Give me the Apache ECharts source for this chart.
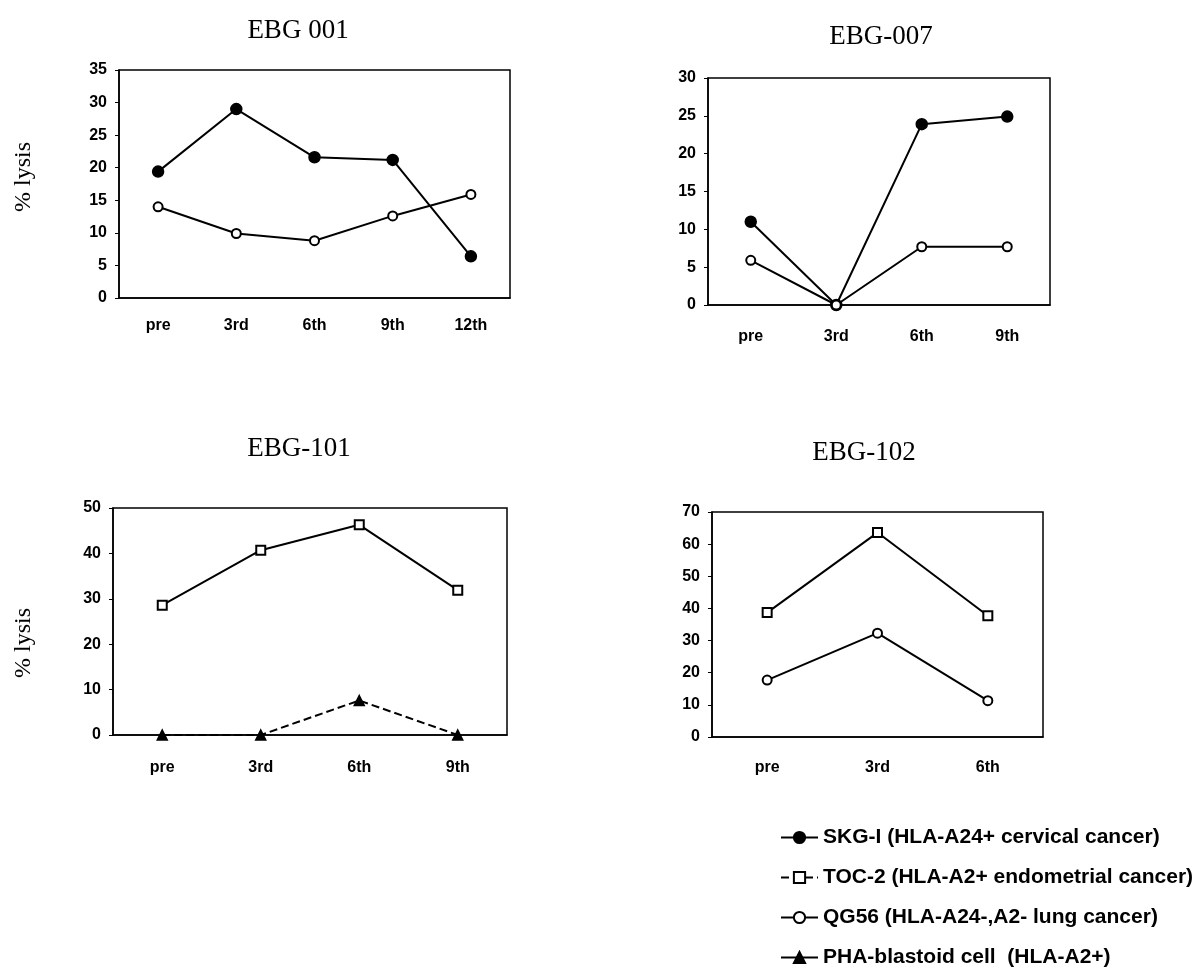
<!DOCTYPE html>
<html>
<head>
<meta charset="utf-8">
<script src="https://cdn.jsdelivr.net/npm/echarts@6/dist/echarts.min.js"></script>
<style>html,body{margin:0;padding:0;background:#fff}#c{width:1204px;height:973px}</style>
</head>
<body>
<div id="c"></div>
<script>
// ---- data ----
const panelTitles = ['EBG 001', 'EBG-007', 'EBG-101', 'EBG-102'];
const cats001 = ['pre', '3rd', '6th', '9th', '12th'];
const cats007 = ['pre', '3rd', '6th', '9th'];
const cats101 = ['pre', '3rd', '6th', '9th'];
const cats102 = ['pre', '3rd', '6th'];

const skg001 = [19.4, 29.0, 21.6, 21.2, 6.4];
const qg001  = [14.0, 9.9, 8.8, 12.6, 15.9];

const skg007 = [11.0, 0, 23.9, 24.9];
const qg007  = [5.9, 0, 7.7, 7.7];

const toc101 = [28.6, 40.7, 46.3, 31.9];
const pha101 = [0, 0, 7.6, 0];

const toc102 = [38.7, 63.6, 37.7];
const qg102  = [17.7, 32.3, 11.3];

const yMax = [35, 30, 50, 70];
const yStep = [5, 5, 10, 10];

const nameSKG = 'SKG-I (HLA-A24+ cervical cancer)';
const nameTOC = 'TOC-2 (HLA-A2+ endometrial cancer)';
const nameQG  = 'QG56 (HLA-A24-,A2- lung cancer)';
const namePHA = 'PHA-blastoid cell  (HLA-A2+)';

// ---- layout ----
const grids = [
  {left: 119, top: 70, width: 391, height: 228},
  {left: 708, top: 78, width: 342, height: 227},
  {left: 113, top: 508, width: 394, height: 227},
  {left: 712, top: 512, width: 331, height: 225}
];
const catsList = [cats001, cats007, cats101, cats102];
const xMargins = [20, 24, 25, 23];
const titlePos = [[293, 12], [876, 18], [294, 430], [859, 434]];

const tickFont = {fontFamily: 'Liberation Sans', fontWeight: 'bold', fontSize: 16, color: '#000'};

const option = {
  animation: false,
  backgroundColor: '#fff',
  title: panelTitles.map((t, i) => ({
    text: t, left: titlePos[i][0], top: titlePos[i][1], textAlign: 'center',
    textStyle: {fontFamily: 'Liberation Serif', fontWeight: 'normal', fontSize: 27, color: '#000'}
  })),
  grid: grids.map(g => Object.assign({show: true, borderColor: '#000', borderWidth: 1.5, backgroundColor: 'transparent'}, g)),
  xAxis: catsList.map((c, i) => ({
    type: 'category', gridIndex: i, data: c, boundaryGap: true,
    axisLine: {lineStyle: {color: '#000', width: 1.5}},
    axisTick: {inside: true, length: 5, lineStyle: {color: '#000'}},
    axisLabel: Object.assign({margin: xMargins[i]}, tickFont),
    splitLine: {show: false}
  })),
  yAxis: yMax.map((m, i) => ({
    type: 'value', gridIndex: i, min: 0, max: m, interval: yStep[i],
    axisLine: {show: true, lineStyle: {color: '#000', width: 1.5}},
    axisTick: {show: true, length: 4, lineStyle: {color: '#000'}},
    axisLabel: Object.assign({margin: 12}, tickFont),
    splitLine: {show: false}
  })),
  legend: {
    orient: 'vertical', left: 780, top: 827, padding: 0, itemWidth: 37, itemHeight: 14, itemGap: 19,
    textStyle: {fontFamily: 'Liberation Sans', fontWeight: 'bold', fontSize: 21, color: '#000'},
    data: [
      {name: nameSKG},
      {name: nameTOC, lineStyle: {type: 'dashed'}},
      {name: nameQG},
      {name: namePHA, lineStyle: {type: 'solid'}}
    ]
  },
  graphic: [
    {type: 'text', left: 12, top: 142, rotation: Math.PI / 2,
      style: {text: '% lysis', font: '24px "Liberation Serif"', fill: '#000'}},
    {type: 'text', left: 12, top: 608, rotation: Math.PI / 2,
      style: {text: '% lysis', font: '24px "Liberation Serif"', fill: '#000'}}
  ],
  series: []
};

function line(name, gi, data, symbol, size, dashed) {
  return {
    name: name, type: 'line', xAxisIndex: gi, yAxisIndex: gi, data: data,
    symbol: symbol, symbolSize: size, showSymbol: true, clip: false,
    lineStyle: {color: '#000', width: 2, type: dashed ? 'dashed' : 'solid'},
    itemStyle: {color: '#000', borderColor: '#000', borderWidth: 1.5}
  };
}
option.series.push(line(nameSKG, 0, skg001, 'circle', 11));
option.series.push(line(nameQG, 0, qg001, 'emptyCircle', 9));
option.series.push(line(nameSKG, 1, skg007, 'circle', 11));
option.series.push(line(nameQG, 1, qg007, 'emptyCircle', 9));
option.series.push(line(nameTOC, 2, toc101, 'emptyRect', 9));
option.series.push(line(namePHA, 2, pha101, 'triangle', 10, true));
option.series.push(line(nameTOC, 3, toc102, 'emptyRect', 9));
option.series.push(line(nameQG, 3, qg102, 'emptyCircle', 9));

const chart = echarts.init(document.getElementById('c'), null, {renderer: 'canvas'});
chart.setOption(option);
</script>
</body>
</html>
